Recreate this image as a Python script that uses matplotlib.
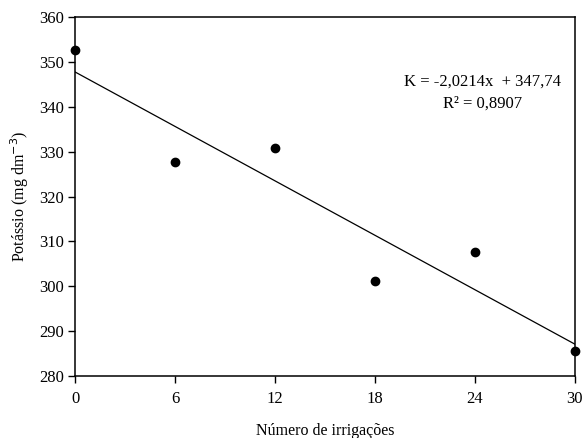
import matplotlib
matplotlib.use("Agg")
import matplotlib.pyplot as plt
import numpy as np

irrigacoes = [0, 6, 12, 18, 24, 30]
potassio = [352.7, 327.8, 330.8, 301.1, 307.7, 285.6]
slope = -2.0214
intercept = 347.74
xticks = [0, 6, 12, 18, 24, 30]
yticks = [280, 290, 300, 310, 320, 330, 340, 350, 360]

plt.rcParams['font.family'] = ['Liberation Serif', 'DejaVu Serif']

fig = plt.figure(figsize=(5.83, 4.38), dpi=100)
ax = fig.add_axes([0.129, 0.1416, 0.857, 0.8195])

xfit = np.array([irrigacoes[0], irrigacoes[-1]])
ax.plot(xfit, slope * xfit + intercept, color='black', lw=0.9, zorder=2)
ax.plot(irrigacoes, potassio, 'o', color='black', ms=6, clip_on=False, zorder=3)

ax.set_xlim(0, 30)
ax.set_ylim(280, 360)
ax.set_xticks(xticks)
ax.set_yticks(yticks)
ax.tick_params(direction='out', length=5, width=1, labelsize=12, colors='black')
ax.tick_params(axis='x', pad=5.5)
ax.tick_params(axis='y', pad=3)
for s in ax.spines.values():
    s.set_linewidth(1.1)

ax.set_xlabel('Número de irrigações', fontsize=11.5, labelpad=12)
ax.set_ylabel('Potássio (mg dm$^{-3}$)', fontsize=11.5, labelpad=6)

ax.text(0.816, 0.819, 'K = -2,0214x  + 347,74', transform=ax.transAxes,
        ha='center', va='center', fontsize=12)
ax.text(0.816, 0.760, 'R² = 0,8907', transform=ax.transAxes,
        ha='center', va='center', fontsize=12)

fig.savefig('out.png', dpi=100)
